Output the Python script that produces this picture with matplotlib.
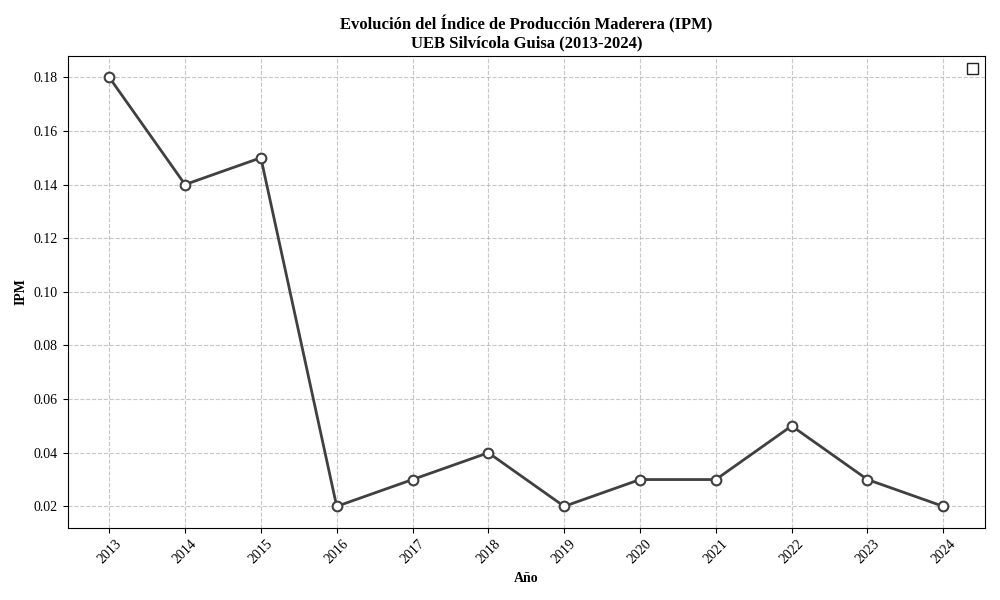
import matplotlib
matplotlib.use("Agg")
import matplotlib.pyplot as plt

years = [2013, 2014, 2015, 2016, 2017, 2018, 2019, 2020, 2021, 2022, 2023, 2024]
ipm = [0.18, 0.14, 0.15, 0.02, 0.03, 0.04, 0.02, 0.03, 0.03, 0.05, 0.03, 0.02]

plt.rcParams['font.family'] = ['Liberation Serif', 'DejaVu Serif']

fig, ax = plt.subplots(figsize=(10, 6), dpi=100)
ax.plot(years, ipm, color="#404040", linewidth=2, marker="o", markersize=7,
        markerfacecolor="white", markeredgecolor="#404040", markeredgewidth=1.5)

ax.set_title("Evolución del Índice de Producción Maderera (IPM)\nUEB Silvícola Guisa (2013-2024)",
             fontsize=12, fontweight="bold")
ax.set_xlabel("Año", fontsize=10, fontweight="bold")
ax.set_ylabel("IPM", fontsize=10, fontweight="bold")
ax.set_xticks(years)
ax.set_xticklabels([str(y) for y in years], rotation=45)
ax.grid(True, linestyle="--", alpha=0.7)
# leyenda vacía, como en el original
ax.legend(handles=[], loc="upper right", fancybox=False, framealpha=1,
          edgecolor="#222222")

plt.tight_layout()
fig.savefig("out.png", dpi=100)
